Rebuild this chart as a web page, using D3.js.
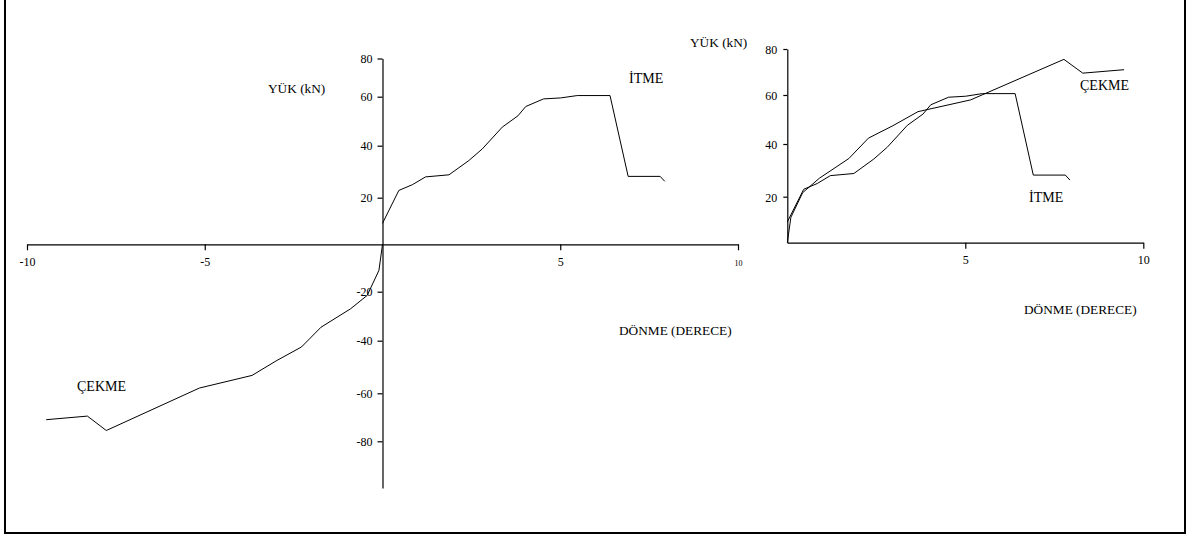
<!DOCTYPE html>
<html>
<head>
<meta charset="utf-8">
<script src="https://cdn.jsdelivr.net/npm/d3@7"></script>
<style>
  body { margin: 0; background: #fff; }
  svg { display: block; background: #fff; }
  text { font-family: "Liberation Serif", "Times New Roman", serif; fill: #000; }
</style>
</head>
<body>
<svg id="chart" width="1193" height="539"></svg>
<script>
// Push branch (İTME): rotation in degrees, load in kN
const itmeRotation = [0, 0.46, 0.84, 1.21, 1.87, 2.43, 2.81, 3.37, 3.81, 4.03, 4.53, 5.01, 5.48, 6.40, 6.91, 7.81, 7.94];
const itmeLoad     = [9, 22.8, 25, 28, 28.8, 34.3, 38.8, 47.6, 52.2, 56, 59.1, 59.5, 60.6, 60.6, 28.2, 28.2, 26.3];

// Pull branch (ÇEKME), recorded in the negative direction
const cekmeRotation = [0, -0.10, -0.43, -0.90, -1.73, -2.28, -2.97, -3.67, -5.15, -7.77, -8.30, -9.46];
const cekmeLoad     = [0, -11, -21.5, -27, -34.5, -42.4, -47.5, -53.2, -58, -75.5, -69.5, -71];

// Tick values
const xTicksFull = [-10, -5, 5, 10];
const yTicksFull = [80, 60, 40, 20, -20, -40, -60, -80];
const xTicksEnv  = [5, 10];
const yTicksEnv  = [80, 60, 40, 20];

// Text
const axisLoad = "YÜK (kN)";
const axisRot  = "DÖNME (DERECE)";
const lblPush  = "İTME";
const lblPull  = "ÇEKME";

const svg = d3.select("#chart");

// frame around the figure (open at the top)
svg.append("path")
  .attr("d", "M5,0V533H1185V0")
  .attr("fill", "none").attr("stroke", "#000").attr("stroke-width", 2);

const itme  = itmeRotation.map((r, i) => [r, itmeLoad[i]]);
const cekme = cekmeRotation.map((r, i) => [r, cekmeLoad[i]]);

// plain hyphen-minus in tick labels
const fmt = d => String(d);

function styleAxis(g) {
  g.selectAll("path, line").attr("stroke", "#000").attr("stroke-width", 1.2);
  g.selectAll("text").attr("font-size", 12).attr("font-family", '"Liberation Serif","Times New Roman",serif').attr("fill", "#000");
}

function drawCurve(data, x, y) {
  svg.append("path")
    .datum(data)
    .attr("fill", "none")
    .attr("stroke", "#000")
    .attr("stroke-width", 1)
    .attr("stroke-linejoin", "round")
    .attr("d", d3.line().x(d => x(d[0])).y(d => y(d[1])));
}

function label(txt, x, y, size) {
  svg.append("text").attr("x", x).attr("y", y).attr("font-size", size).text(txt);
}

// ---------- full envelope (both directions) ----------
const xL = d3.scaleLinear().domain([-10, 10]).range([27, 738]);
const yL = d3.scaleLinear()
  .domain([-98, -80, -60, -40, -20, 0, 20, 40, 60, 80])
  .range([488, 441.3, 393.3, 340.7, 291.7, 244.3, 197.7, 145.7, 96.7, 58.5]);

const gxL = svg.append("g")
  .attr("transform", `translate(0,${yL(0)})`)
  .call(d3.axisBottom(xL).tickValues(xTicksFull).tickSize(6).tickSizeOuter(0).tickFormat(fmt));
styleAxis(gxL);
gxL.selectAll(".tick text").attr("y", 22).attr("dy", 0)
  .attr("font-size", d => d === 10 ? 8 : 12);

const gyL = svg.append("g")
  .attr("transform", `translate(${xL(0)},0)`)
  .call(d3.axisLeft(yL).tickValues(yTicksFull).tickSize(5).tickSizeOuter(0).tickPadding(5).tickFormat(fmt));
styleAxis(gyL);
gyL.selectAll(".tick text").attr("dy", "0.32em");

drawCurve(itme, xL, yL);
drawCurve(cekme, xL, yL);

label(axisLoad, 268, 93, 13.3);
label(lblPush, 629, 83, 14);
label(lblPull, 77, 391, 14);
label(axisRot, 619, 335, 13.3);

// ---------- both branches overlaid on the positive quadrant ----------
const xR = d3.scaleLinear().domain([0, 10]).range([787.3, 1143.3]);
const yR = d3.scaleLinear()
  .domain([0, 20, 40, 60, 80])
  .range([242.7, 196.7, 144, 95, 49]);

const gxR = svg.append("g")
  .attr("transform", `translate(0,${yR(0)})`)
  .call(d3.axisBottom(xR).tickValues(xTicksEnv).tickSize(6).tickSizeOuter(0).tickFormat(fmt));
styleAxis(gxR);
gxR.selectAll(".tick text").attr("y", 21).attr("dy", 0);

const gyR = svg.append("g")
  .attr("transform", `translate(${xR(0)},0)`)
  .call(d3.axisLeft(yR).tickValues(yTicksEnv).tickSize(4).tickSizeOuter(0).tickPadding(6).tickFormat(fmt));
styleAxis(gyR);
gyR.selectAll(".tick text").attr("dy", "0.4em");

drawCurve(itme, xR, yR);
drawCurve(cekme.map(d => [Math.abs(d[0]), Math.abs(d[1])]), xR, yR);

label(axisLoad, 690, 47, 13.3);
label(lblPull, 1080, 90, 14);
label(lblPush, 1029, 202, 14);
label(axisRot, 1024, 314, 13.3);
</script>
</body>
</html>
